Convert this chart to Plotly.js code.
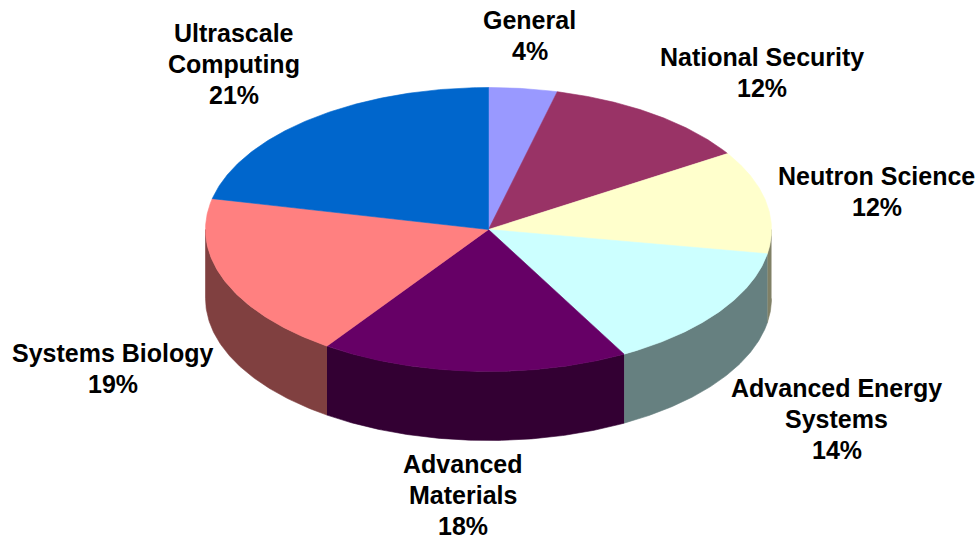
<!DOCTYPE html>
<html>
<head>
<meta charset="utf-8">
<script src="https://cdn.plot.ly/plotly-3.0.1.min.js"></script>
<style>html,body{margin:0;padding:0;background:#fff}#chart{width:979px;height:540px}</style>
</head>
<body>
<div id="chart"></div>
<script>
var categories = ["General","National Security","Neutron Science","Advanced Energy Systems","Advanced Materials","Systems Biology","Ultrascale Computing"];
var labelLines = [["General"],["National Security"],["Neutron Science"],["Advanced Energy","Systems"],["Advanced","Materials"],["Systems Biology"],["Ultrascale","Computing"]];
var values = [3.9,12.1,11.7,14.3,17.6,18.8,21.49];
var topColors = ["#9999FF","#993366","#FFFFCC","#CCFFFF","#660066","#FF8080","#0066CC"];
var sideColors = ["#4D4D80","#4D1A33","#808066","#668080","#330033","#804040","#003366"];
var labelX = [529.5,762,876.5,836.5,462.5,112.5,233.5];
var labelTop = [20,57,176,388,463.5,353,33];

var cx = 488.5, cy = 229.5, rx = 283, ry = 142, depth = 69, lineGap = 31;
var total = values.reduce(function(a,b){return a+b;},0);

function px(d){return cx + rx*Math.sin(d*Math.PI/180);}
function py(d,off){return cy - ry*Math.cos(d*Math.PI/180) + (off||0);}
function arc(a,b){
  var out=[], n=Math.max(2,Math.ceil((b-a)*2));
  for(var i=0;i<=n;i++){out.push(a+(b-a)*i/n);}
  return out;
}

var walls=[], tops=[], annotations=[], cum=0;
values.forEach(function(v,i){
  var start=cum/total*360, end=(cum+v)/total*360;
  cum+=v;
  var a=Math.max(start,90), b=Math.min(end,270);
  if(b>a){
    var t=arc(a,b);
    var rev=t.slice().reverse();
    walls.push({type:"scatter",mode:"lines",fill:"toself",fillcolor:sideColors[i],
      line:{width:0.6,color:sideColors[i]},hoverinfo:"skip",name:categories[i],showlegend:false,
      x:t.map(function(d){return px(d);}).concat(rev.map(function(d){return px(d);})),
      y:t.map(function(d){return py(d,0);}).concat(rev.map(function(d){return py(d,depth);}))});
  }
  var s=arc(start,end);
  tops.push({type:"scatter",mode:"lines",fill:"toself",fillcolor:topColors[i],
    line:{width:0.6,color:topColors[i]},hoverinfo:"skip",name:categories[i],showlegend:false,
    x:[cx].concat(s.map(function(d){return px(d);})).concat([cx]),
    y:[cy].concat(s.map(function(d){return py(d,0);})).concat([cy])});
  labelLines[i].concat([Math.round(v)+"%"]).forEach(function(line,k){
    annotations.push({xref:"x",yref:"y",x:labelX[i],y:labelTop[i]+k*lineGap,xanchor:"center",yanchor:"middle",
      showarrow:false,align:"center",borderpad:0,
      text:"<b>"+line+"</b>",
      font:{family:"Liberation Sans, Arial, sans-serif",size:25,color:"#000"}});
  });
});

var layout={width:979,height:540,margin:{l:0,r:0,t:0,b:0},paper_bgcolor:"#fff",plot_bgcolor:"#fff",
  showlegend:false,annotations:annotations,
  xaxis:{range:[0,979],visible:false,fixedrange:true},
  yaxis:{range:[540,0],visible:false,fixedrange:true}};
Plotly.newPlot("chart",walls.concat(tops),layout,{displayModeBar:false,staticPlot:true});
</script>
</body>
</html>
